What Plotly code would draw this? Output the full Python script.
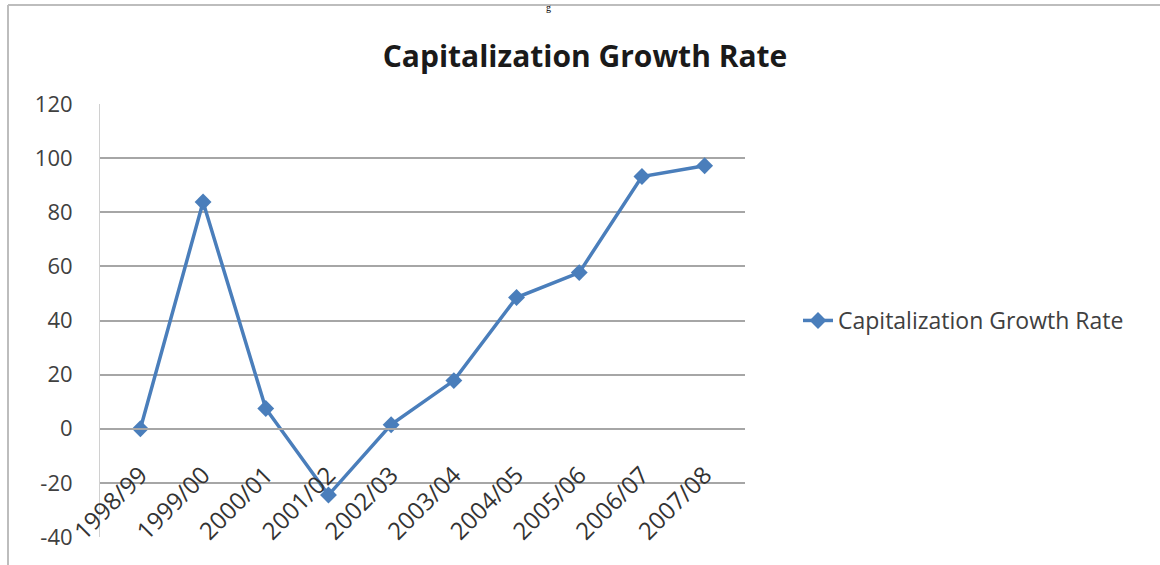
import plotly.graph_objects as go

categories = ["1998/99", "1999/00", "2000/01", "2001/02", "2002/03",
              "2003/04", "2004/05", "2005/06", "2006/07", "2007/08"]
growth_rate = [0, 83.8, 7.5, -24.5, 1.5, 17.8, 48.5, 57.7, 93.2, 97.2]
y_ticks = [-40, -20, 0, 20, 40, 60, 80, 100, 120]
y_tick_labels = ["-40", "-20", "0", "20", "40", "60", "80", "100", "120"]
series_name = "Capitalization Growth Rate"
title_text = "Capitalization Growth Rate"

W, H = 1160, 565
L, R, T, B = 100, 415, 104, 28
PW, PH = W - L - R, H - T - B

def px_x(x):
    return (x - L) / PW

def px_y(y):
    return (H - B - y) / PH

BLUE = "#4a7ebb"
GRID = "#a6a6a6"
FONT = "Open Sans"

fig = go.Figure()
fig.add_trace(go.Scatter(
    x=categories, y=growth_rate, name=series_name, mode="lines+markers",
    line=dict(color=BLUE, width=3.5),
    marker=dict(symbol="diamond", size=13, color=BLUE),
))

fig.update_layout(
    width=W, height=H,
    margin=dict(l=L, r=R, t=T, b=B, autoexpand=False),
    paper_bgcolor="white", plot_bgcolor="white",
    font=dict(family=FONT, color="#404040"),
    title=dict(text="<b>" + title_text + "</b>", x=585 / W, xanchor="center",
               xref="container", y=1 - 56 / H, yanchor="middle", yref="container",
               font=dict(family=FONT, size=30, color="#1a1a1a")),
    showlegend=True,
    legend=dict(x=px_x(798), xanchor="left", y=0.5, yanchor="middle",
                font=dict(family=FONT, size=23, color="#404040"),
                bgcolor="rgba(0,0,0,0)"),
    xaxis=dict(type="category", categoryorder="array", categoryarray=categories,
               showgrid=False, anchor="free", position=0.25,
               showline=True, linecolor=GRID, linewidth=1.5,
               tickangle=-45, tickfont=dict(family=FONT, size=24, color="#333333"),
               ticks="", ticklabelstandoff=22, zeroline=False),
    yaxis=dict(range=[-40, 120], tickvals=y_ticks, ticktext=y_tick_labels,
               showgrid=True, gridcolor=GRID, gridwidth=1.5, zeroline=False,
               showline=True, linecolor="#d0d0d0", linewidth=1,
               tickfont=dict(family=FONT, size=22, color="#404040"),
               ticks="", ticklabelstandoff=22),
    shapes=[
        dict(type="line", xref="paper", yref="paper", x0=px_x(8), x1=px_x(1160),
             y0=px_y(5), y1=px_y(5), line=dict(color="#bdbdbd", width=2)),
        dict(type="line", xref="paper", yref="paper", x0=px_x(8), x1=px_x(8),
             y0=px_y(5), y1=px_y(565), line=dict(color="#bdbdbd", width=2)),
    ],
    annotations=[
        dict(text="g", xref="paper", yref="paper", x=px_x(548), y=px_y(0),
             xanchor="center", yanchor="top", showarrow=False,
             font=dict(family="Liberation Serif", size=10, color="#000000")),
    ],
)

fig.write_html("out.html", config={"displayModeBar": False},
               post_script="document.body.style.margin='0';")
